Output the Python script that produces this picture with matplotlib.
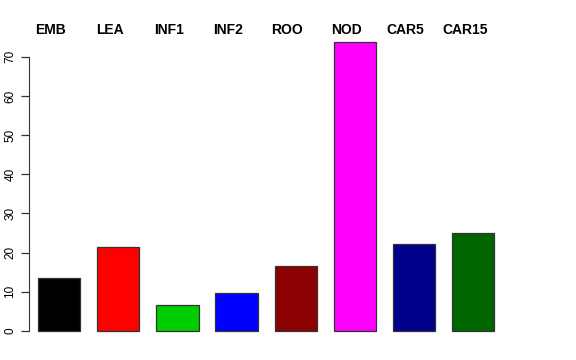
import numpy as np
import matplotlib
matplotlib.use("Agg")
import matplotlib.pyplot as plt

labels = ["EMB", "LEA", "INF1", "INF2", "ROO", "NOD", "CAR5", "CAR15"]
values = [13.5, 21.4, 6.6, 9.8, 16.6, 73.7, 22.2, 24.9]
colors = ["#000000", "#FF0000", "#00CD00", "#0000FF",
          "#8B0000", "#FF00FF", "#00008B", "#006400"]
yticks = [0, 10, 20, 30, 40, 50, 60, 70]

plt.rcParams['font.family'] = ['Liberation Sans', 'DejaVu Sans']

fig = plt.figure(figsize=(5.76, 3.6), dpi=100)
ax = fig.add_axes([29 / 576, 17.5 / 360, 474 / 576, 311.5 / 360])

# R style barplot positions: width 1, space 0.4
x = 0.9 + 1.4 * np.arange(len(values))
ax.bar(x, values, width=1.0, color=colors, edgecolor="#333333", linewidth=0.9)

ax.set_xlim(0.186, 11.41)
ax.set_ylim(-2.95, 76.6)

for s in ["top", "right", "bottom"]:
    ax.spines[s].set_visible(False)
ax.spines["left"].set_bounds(0, 70)
ax.spines["left"].set_color("#333333")
ax.set_xticks([])
ax.set_yticks(yticks)
ax.set_yticklabels([str(t) for t in yticks], rotation=90, va="center", fontsize=8.5)
ax.tick_params(axis="y", length=6, width=0.9, color="#333333", pad=3)

# group names on top
for xi, lab in zip(x, labels):
    ax.annotate(lab, xy=(xi, 1.0), xycoords=("data", "axes fraction"),
                xytext=(-6, 0.5), textcoords="offset points",
                ha="center", va="center", fontsize=10, fontweight="bold")

fig.savefig("out.png", dpi=100)
